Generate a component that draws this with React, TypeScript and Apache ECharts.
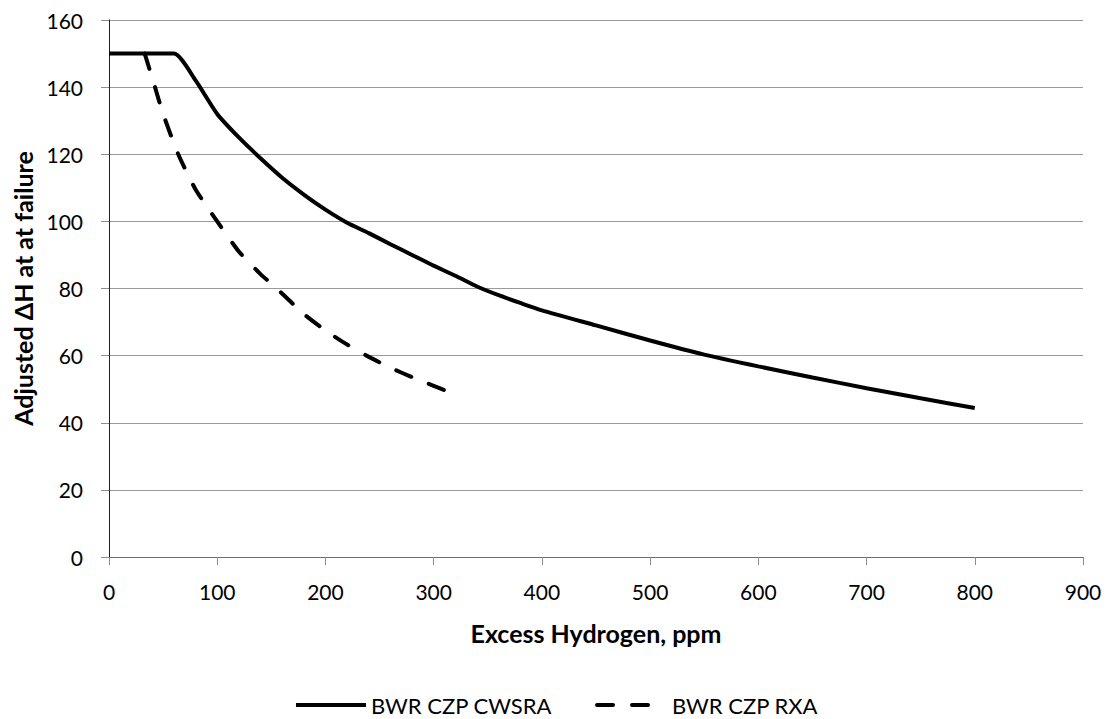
import React, { useEffect, useRef } from "react";
import * as echarts from "echarts";

const cwsraX = [0, 60, 80, 100, 120, 140, 160, 180, 200, 220, 240, 260, 280, 300, 320, 340, 360, 380, 400, 450, 500, 550, 600, 650, 700, 750, 800];
const cwsraY = [150, 150, 142, 132, 125, 118.8, 113, 108, 103.5, 99.6, 96.5, 93.2, 90, 86.8, 83.8, 80.6, 78, 75.7, 73.5, 69, 64.5, 60.3, 56.8, 53.5, 50.3, 47.3, 44.4];

const rxaX = [33, 42.5, 50, 64, 80, 100, 120, 140, 155, 180, 200, 220, 238, 260, 280, 300, 310];
const rxaY = [150, 140, 132, 120, 109.5, 100, 91, 84.3, 80, 72.4, 67.5, 63.3, 60, 56.4, 53.6, 51, 49.7];

const seriesNames = ["BWR CZP CWSRA", "BWR CZP RXA"];
const xAxisTitle = "Excess Hydrogen, ppm";
const yAxisTitle = "Adjusted \u0394H at at failure";

const FONT = "Lato, 'Liberation Sans', sans-serif";

export default function App() {
  const ref = useRef<HTMLDivElement>(null);
  useEffect(() => {
    if (!ref.current) return;
    const chart = echarts.init(ref.current, null, { renderer: "svg" });
    const pair = (xs: number[], ys: number[]) => xs.map((x, i) => [x, ys[i]]);
    chart.setOption({
      animation: false,
      backgroundColor: "#ffffff",
      textStyle: { fontFamily: FONT },
      grid: { left: 109, right: 29, top: 20, bottom: 162, containLabel: false },
      legend: {
        top: 689,
        left: "center",
        itemWidth: 70,
        itemHeight: 14,
        itemGap: 43,
        itemTextGap: 6,
        itemStyle: { color: "rgba(0,0,0,0)", borderColor: "rgba(0,0,0,0)", borderWidth: 0 },
        lineStyle: { width: 4, color: "#000" },
        textStyle: { fontFamily: FONT, fontSize: 22, color: "#000" },
        data: seriesNames,
      },
      xAxis: [
        {
          type: "value",
          min: 0,
          max: 900,
          interval: 100,
          name: xAxisTitle,
          nameLocation: "middle",
          nameGap: 63,
          nameTextStyle: { fontFamily: FONT, fontSize: 25, fontWeight: "bold", color: "#000" },
          axisLine: { show: true, onZero: false, lineStyle: { color: "#8c8c8c", width: 1 } },
          axisTick: { show: true, length: 8, lineStyle: { color: "#8c8c8c" } },
          axisLabel: { fontFamily: FONT, fontSize: 21, color: "#000", margin: 24 },
          splitLine: { show: false },
        },
        {
          type: "value",
          position: "top",
          min: 0,
          max: 900,
          axisLine: { show: true, lineStyle: { color: "#6e6e6e", width: 1 } },
          axisTick: { show: false },
          axisLabel: { show: false },
          splitLine: { show: false },
        },
      ],
      yAxis: [
        {
          type: "value",
          min: 0,
          max: 160,
          interval: 20,
          name: yAxisTitle,
          nameLocation: "middle",
          nameGap: 64,
          nameTextStyle: { fontFamily: FONT, fontSize: 25, fontWeight: "bold", color: "#000" },
          axisLine: { show: true, lineStyle: { color: "#8c8c8c", width: 1 } },
          axisTick: { show: true, length: 8, lineStyle: { color: "#8c8c8c" } },
          axisLabel: { fontFamily: FONT, fontSize: 21, color: "#000", margin: 26 },
          splitLine: { show: true, lineStyle: { color: "#9a9a9a", width: 1 } },
        },
        {
          type: "value",
          position: "right",
          min: 0,
          max: 160,
          axisLine: { show: true, lineStyle: { color: "#202020", width: 1 } },
          axisTick: { show: false },
          axisLabel: { show: false },
          splitLine: { show: false },
        },
      ],
      series: [
        {
          name: seriesNames[0],
          type: "line",
          data: pair(cwsraX, cwsraY),
          showSymbol: false,
          symbol: "none",
          smooth: 0.2,
          lineStyle: { color: "#000", width: 4, type: "solid" },
          itemStyle: { color: "#000" },
        },
        {
          name: seriesNames[1],
          type: "line",
          data: pair(rxaX, rxaY),
          showSymbol: false,
          symbol: "none",
          smooth: 0.2,
          lineStyle: { color: "#000", width: 4, type: [16, 19], cap: "round" },
          itemStyle: { color: "#000" },
        },
      ],
    });
    return () => chart.dispose();
  }, []);
  return <div ref={ref} style={{ position: "fixed", left: 0, top: 0, width: 1112, height: 719 }} />;
}
